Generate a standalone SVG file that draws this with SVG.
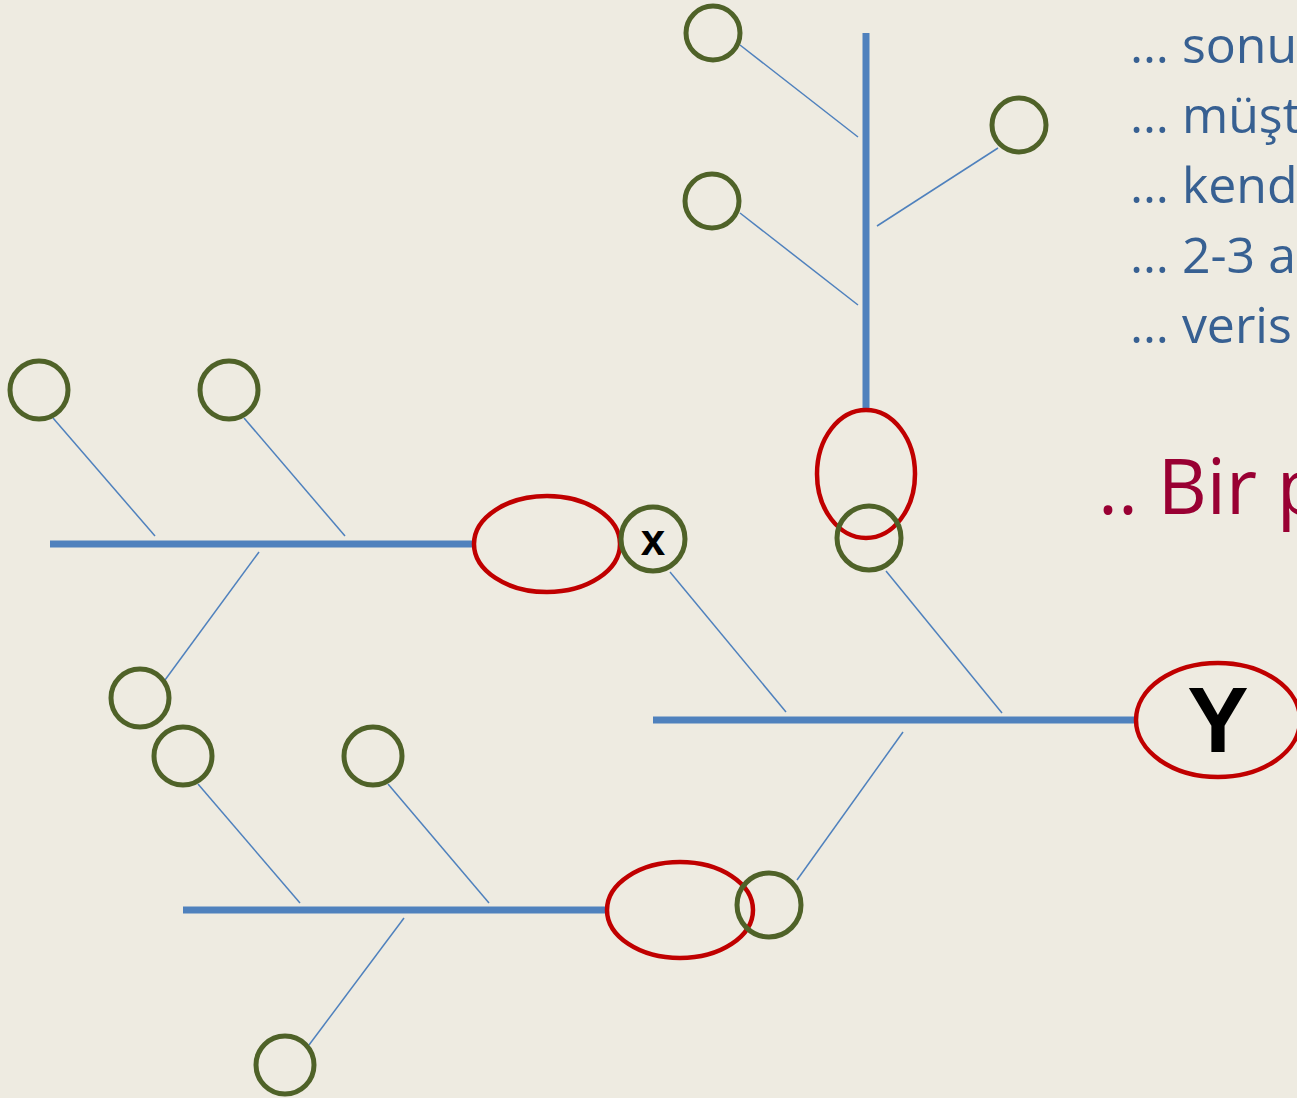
<svg xmlns="http://www.w3.org/2000/svg" width="1297" height="1098" viewBox="0 0 1297 1098">
<style>
.spine{stroke:#4F81BD;stroke-width:7;fill:none}
.rib{stroke:#4F81BD;stroke-width:1.5;fill:none}
.g{fill:none;stroke:#4F6228;stroke-width:5}
.r{fill:none;stroke:#C00000;stroke-width:4.5}
.t{font-family:"Open Sans","Liberation Sans",sans-serif;font-size:50px;fill:#376092}
</style>
<rect width="1297" height="1098" fill="#EEEBE1"/>
<g id="connectors">
<line class="spine" x1="866" y1="33" x2="866" y2="409"/>
<line class="rib" x1="740" y1="45" x2="858" y2="137"/>
<line class="rib" x1="998" y1="148" x2="877" y2="226"/>
<line class="rib" x1="740" y1="213" x2="858" y2="305"/>
<line class="spine" x1="653" y1="720" x2="1136" y2="720"/>
<line class="rib" x1="886" y1="571" x2="1002" y2="713"/>
<line class="rib" x1="670" y1="572" x2="786" y2="712"/>
<line class="rib" x1="903" y1="732" x2="797" y2="880"/>
<line class="spine" x1="50" y1="544" x2="474" y2="544"/>
<line class="rib" x1="53" y1="418" x2="155" y2="536"/>
<line class="rib" x1="244" y1="418" x2="345" y2="536"/>
<line class="rib" x1="259" y1="552" x2="165" y2="680"/>
<line class="spine" x1="183" y1="910" x2="607" y2="910"/>
<line class="rib" x1="198" y1="784" x2="300" y2="903"/>
<line class="rib" x1="388" y1="784" x2="489" y2="903"/>
<line class="rib" x1="404" y1="918" x2="309" y2="1045"/>
</g>
<g id="c1"><circle class="g" cx="713" cy="33" r="27"/></g>
<g id="c2"><circle class="g" cx="1019" cy="125" r="27"/></g>
<g id="c3"><circle class="g" cx="712" cy="201" r="27"/></g>
<g id="r1"><ellipse class="r" cx="866" cy="474" rx="49" ry="64"/></g>
<g id="c4"><circle class="g" cx="869" cy="538" r="32"/></g>
<g id="Y"><ellipse class="r" cx="1218" cy="720" rx="82" ry="57"/>
<text x="1218" y="752" text-anchor="middle" font-family="Liberation Sans, sans-serif" font-weight="bold" font-size="92" fill="#000">Y</text></g>
<g id="r2"><ellipse class="r" cx="547" cy="544" rx="73" ry="48"/></g>
<g id="x"><circle class="g" cx="653" cy="539" r="32"/>
<text x="653" y="555" text-anchor="middle" font-family="Liberation Sans, sans-serif" font-weight="bold" font-size="44" fill="#000">x</text></g>
<g id="c5"><circle class="g" cx="39" cy="390" r="29"/></g>
<g id="c6"><circle class="g" cx="229" cy="390" r="29"/></g>
<g id="c7"><circle class="g" cx="140" cy="698" r="29"/></g>
<g id="r3"><ellipse class="r" cx="680" cy="910" rx="73" ry="48"/></g>
<g id="c8"><circle class="g" cx="769" cy="905" r="32"/></g>
<g id="c9"><circle class="g" cx="183" cy="756" r="29"/></g>
<g id="c10"><circle class="g" cx="373" cy="756" r="29"/></g>
<g id="c11"><circle class="g" cx="285" cy="1065" r="29"/></g>
<g id="texts">
<text class="t" x="1130" y="63">… sonu</text>
<text class="t" x="1130" y="133">… müşt</text>
<text class="t" x="1130" y="203">… kend</text>
<text class="t" x="1130" y="273">… 2-3 a</text>
<text class="t" x="1130" y="343">… veris</text>
<text x="1098" y="514" font-family="Open Sans, Liberation Sans, sans-serif" font-size="76" fill="#990033">.. Bir p</text>
</g>
</svg>
